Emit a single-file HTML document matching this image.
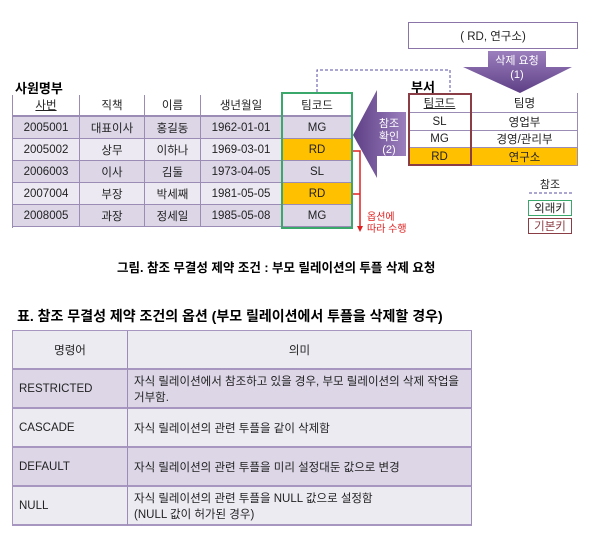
<!DOCTYPE html>
<html><head><meta charset="utf-8">
<style>
body{margin:0;width:594px;height:544px;background:#fff;position:relative;overflow:hidden;font-family:"Liberation Sans","Noto Sans CJK KR",sans-serif;}
.a{position:absolute;box-sizing:border-box;}
.c{position:absolute;box-sizing:border-box;display:flex;align-items:center;justify-content:center;font-size:11.5px;color:#222;}
</style></head><body>
<div class="a" style="left:15px;top:78px;font-size:13px;font-weight:bold;">사원명부</div>
<div class="a" id="emp" style="left:12px;top:95px;width:340px;height:133px;border-left:1px solid #9a8cb5;"></div>
<div class="a" style="left:281px;top:92px;width:72px;height:137px;border:2px solid #3aa86a;"></div>

<div class="c" style="left:408px;top:22px;width:170px;height:27px;border:1.5px solid #8a74a8;background:#fff;">( RD, 연구소)</div>
<div class="a" style="left:411px;top:77px;font-size:13px;font-weight:bold;">부서</div>
<div class="a" id="dept" style="left:408px;top:93px;width:170px;height:73px;"></div>
<div class="a" style="left:408px;top:93px;width:64px;height:73px;border:2px solid #8b3d45;"></div>

<svg class="a" style="left:0;top:0" width="594" height="544">
<defs><linearGradient id="g" x1="0" y1="0" x2="0" y2="1"><stop offset="0" stop-color="#9b7fbd"/><stop offset="1" stop-color="#5e3f86"/></linearGradient>
<linearGradient id="g2" x1="0" y1="0" x2="1" y2="0"><stop offset="0" stop-color="#5e3f86"/><stop offset="1" stop-color="#9b7fbd"/></linearGradient></defs>
<polygon points="488,51 546,51 546,67 572,67 520,93 463,67 488,67" fill="url(#g)"/>
<text x="517" y="64" font-size="11" fill="#fff" text-anchor="middle" font-family="Liberation Sans,Noto Sans CJK KR,sans-serif">삭제 요청</text>
<text x="517" y="78" font-size="11" fill="#fff" text-anchor="middle" font-family="Liberation Sans,sans-serif">(1)</text>
<polygon points="353,135 377,90 377,112 406,112 406,156 377,156 377,178" fill="url(#g2)"/>
<text x="389" y="127" font-size="11" fill="#fff" text-anchor="middle" font-family="Liberation Sans,Noto Sans CJK KR,sans-serif">참조</text>
<text x="389" y="140" font-size="11" fill="#fff" text-anchor="middle" font-family="Liberation Sans,Noto Sans CJK KR,sans-serif">확인</text>
<text x="389" y="153" font-size="11" fill="#fff" text-anchor="middle" font-family="Liberation Sans,sans-serif">(2)</text>
<polyline points="317,92 317,70 450,70 450,92" fill="none" stroke="#5a4fa0" stroke-dasharray="3,2" stroke-width="1"/>
<g stroke="#e02020" stroke-width="1.5" fill="none">
<polyline points="353,151 360,151 360,227"/><line x1="353" y1="194" x2="360" y2="194"/></g>
<polygon points="357,226 363,226 360,232" fill="#e02020"/>
<text x="367" y="220" font-size="10" fill="#e02020" font-family="Liberation Sans,Noto Sans CJK KR,sans-serif">옵션에</text>
<text x="367" y="232" font-size="10" fill="#e02020" font-family="Liberation Sans,Noto Sans CJK KR,sans-serif">따라 수행</text>
<text x="550" y="188" font-size="11" fill="#222" text-anchor="middle" font-family="Liberation Sans,Noto Sans CJK KR,sans-serif">참조</text>
<line x1="529" y1="193" x2="572" y2="193" stroke="#5a4fa0" stroke-dasharray="3,2"/>
</svg>
<div class="c" style="left:528px;top:200px;width:44px;height:16px;border:1.5px solid #3aa86a;">외래키</div>
<div class="c" style="left:528px;top:218px;width:44px;height:16px;border:1.5px solid #8b3d45;color:#8b3d45;">기본키</div>

<div class="a" style="left:117px;top:257px;font-size:12.5px;font-weight:bold;">그림. 참조 무결성 제약 조건 : 부모 릴레이션의 투플 삭제 요청</div>
<div class="a" style="left:17px;top:306px;font-size:14px;font-weight:bold;">표. 참조 무결성 제약 조건의 옵션 (부모 릴레이션에서 투플을 삭제할 경우)</div>
<div class="a" id="opt" style="left:12px;top:330px;width:460px;height:196px;border:1px solid #a696c0;"></div>

<script>
const empCols=[67,65,56,81,71];
const empRows=[["<u>사번</u>","직책","이름","생년월일","팀코드"],["2005001","대표이사","홍길동","1962-01-01","MG"],["2005002","상무","이하나","1969-03-01","RD"],["2006003","이사","김둘","1973-04-05","SL"],["2007004","부장","박세째","1981-05-05","RD"],["2008005","과장","정세일","1985-05-08","MG"]];
const deptRows=[["<u>팀코드</u>","팀명"],["SL","영업부"],["MG","경영/관리부"],["RD","연구소"]];
const optRows=[["명령어","의미"],["RESTRICTED","자식 릴레이션에서 참조하고 있을 경우, 부모 릴레이션의 삭제 작업을<br>거부함."],["CASCADE","자식 릴레이션의 관련 투플을 같이 삭제함"],["DEFAULT","자식 릴레이션의 관련 투플을 미리 설정대둔 값으로 변경"],["NULL","자식 릴레이션의 관련 투플을 NULL 값으로 설정함<br>(NULL 값이 허가된 경우)"]];
function cell(p,x,y,w,h,html,bg,al){const d=document.createElement('div');d.className='c';


d.style.cssText=`left:${x}px;top:${y}px;width:${w}px;height:${h}px;background:${bg};border-right:1px solid #9a8cb5;border-bottom:1px solid #9a8cb5;`+(al?'justify-content:flex-start;padding-left:6px;text-align:left;':'');d.innerHTML=html;p.appendChild(d);return d;}
const emp=document.getElementById('emp');
empRows.forEach((r,i)=>{let x=0;r.forEach((t,j)=>{let bg=i==0?'#fff':(i%2?'#dcd6e7':'#ece9f2');if(j==4&&t=='RD'&&i>0)bg='#ffc000';if(j==4)x=269;const d=cell(emp,x,i==0?0:22+(i-1)*22,empCols[j],22,t,bg);if(i==0)d.style.borderBottom='2px solid #9a8cb5';x+=empCols[j];});});
const dept=document.getElementById('dept');const dh=[20,18,17,18];let dy=0;
deptRows.forEach((r,i)=>{const bg=i==3?'#ffc000':'#fff';cell(dept,0,dy,64,dh[i],r[0],bg);cell(dept,64,dy,106,dh[i],r[1],bg);dy+=dh[i];});
const opt=document.getElementById('opt');
optRows.forEach((r,i)=>{const bg=i%2?'#dcd6e7':'#ecebf2';const y=i*39;
cell(opt,0,y,115,39,r[0],bg,i>0);cell(opt,115,y,344,39,r[1],bg,i>0);});
opt.querySelectorAll('.c').forEach(e=>e.style.borderBottom='2px solid #a696c0');
</script>
</body></html>
